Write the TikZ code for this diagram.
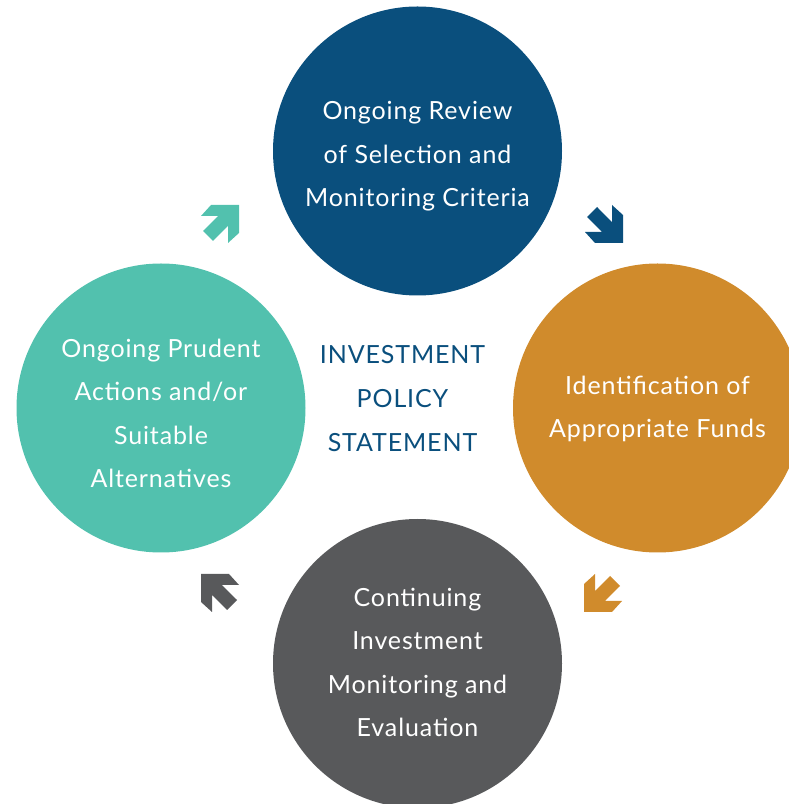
\documentclass[tikz,border=0pt]{standalone}
\usepackage{fontspec}
\setmainfont{Lato}[LetterSpace=3.5]
\usepackage{tikz}
\definecolor{reviewblue}{HTML}{0A4F7D}
\definecolor{fundsorange}{HTML}{D08B2C}
\definecolor{monitorgray}{HTML}{58595B}
\definecolor{prudentteal}{HTML}{52C1AE}
\begin{document}
\begin{tikzpicture}[x=1pt, y=1pt,
  step circle/.style = {circle, minimum size=289pt, inner sep=0pt, text=white, align=center,
    text depth=0pt, font=\fontsize{25}{43.5}\selectfont},
  cyclearrow/.pic = {\path[pic actions] (0,0) -- (-28,0) -- (-38,-11) -- (-20.9,-11) -- (-36,-26)
    -- (-26,-36) -- (-11,-20.9) -- (-11,-38) -- (0,-28) -- cycle;}]
  \useasboundingbox (0,0) rectangle (789,804);
  \node[step circle, fill=reviewblue, text height=112pt] (review) at (417.5,653) {Ongoing Review\\of Selection and\\Monitoring Criteria};
  \node[step circle, fill=fundsorange, text height=60pt] (funds) at (657.5,396) {Identification of\\Appropriate Funds};
  \node[step circle, fill=monitorgray, text height=147pt] (monitor) at (417.5,140.5) {Continuing\\Investment\\Monitoring and\\Evaluation};
  \node[step circle, fill=prudentteal, text height=160pt] (prudent) at (161,396) {Ongoing Prudent\\Actions and/or\\Suitable\\Alternatives};
  \node[align=center, text=reviewblue, font=\fontsize{25}{44}\selectfont] (ips) at (402.5,405.5) {INVESTMENT\\POLICY\\STATEMENT};
  \pic[fill=prudentteal] at (239,599) {cyclearrow};
  \pic[fill=reviewblue, rotate=-90] at (623,561) {cyclearrow};
  \pic[fill=fundsorange, rotate=180] at (584,192) {cyclearrow};
  \pic[fill=monitorgray, rotate=90] at (201,230) {cyclearrow};
\end{tikzpicture}
\end{document}
